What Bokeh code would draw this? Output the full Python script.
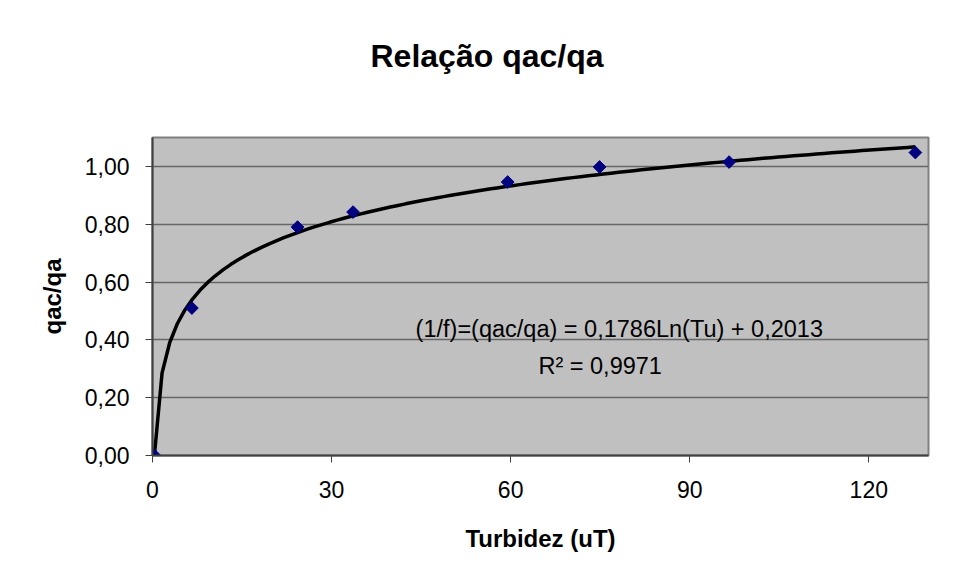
import numpy as np
from bokeh.plotting import figure
from bokeh.models import (ColumnDataSource, FixedTicker, Label, Range1d, Title)
from bokeh.embed import file_html
from bokeh.resources import INLINE

# ---- data ----
turbidez = [0.33, 6.6, 24.3, 33.6, 59.5, 74.9, 96.6, 127.8]
qac_qa = [0.0, 0.51, 0.79, 0.842, 0.946, 0.998, 1.015, 1.048]

# logarithmic trendline shown on the chart: y = a*ln(x) + b
trend_a = 0.1786
trend_b = 0.2013
r_squared = "0,9971"

x_ticks = [0, 30, 60, 90, 120]
x_tick_labels = ["0", "30", "60", "90", "120"]
y_ticks = [0.0, 0.2, 0.4, 0.6, 0.8, 1.0]
y_tick_labels = ["0,00", "0,20", "0,40", "0,60", "0,80", "1,00"]

title_text = "Relação qac/qa"
x_label = "Turbidez (uT)"
y_label = "qac/qa"
equation_text = "(1/f)=(qac/qa) = 0,1786Ln(Tu) + 0,2013"
r2_text = "R² = " + r_squared

FONT = "Liberation Sans"

x_min, x_max = 0, 130
y_min, y_max = 0, 1.1

p = figure(width=956, height=579, output_backend="svg", toolbar_location=None,
           x_range=Range1d(x_min, x_max), y_range=Range1d(y_min, y_max),
           min_border_left=152, min_border_right=28, min_border_top=137,
           min_border_bottom=124)
p.background_fill_color = "#c0c0c0"
p.border_fill_color = "white"
p.outline_line_color = "#808080"
p.outline_line_width = 2

# chart title (outermost panel above the plot area)
p.title.text = title_text
p.title.align = "left"
p.title.offset = 218
p.title.standoff = 0
p.title.vertical_align = "bottom"
p.title.text_font = FONT
p.title.text_font_style = "bold"
p.title.text_font_size = "32px"
p.title.text_color = "black"

# spacing panel between the title and the plot area
p.add_layout(Title(text=" ", text_font_size="2px", standoff=60), "above")

# grid
p.xgrid.grid_line_color = None
p.ygrid.grid_line_color = "#666666"
p.ygrid.grid_line_width = 1.3

# axes
for ax in (p.xaxis[0], p.yaxis[0]):
    ax.axis_line_color = "#404040"
    ax.axis_line_width = 2
    ax.major_tick_line_color = "#404040"
    ax.major_tick_line_width = 1
    ax.major_tick_in = 0
    ax.major_tick_out = 7
    ax.minor_tick_line_color = None
    ax.major_label_text_font = FONT
    ax.major_label_text_font_size = "23px"
    ax.major_label_text_color = "black"
    ax.axis_label_text_font = FONT
    ax.axis_label_text_font_style = "bold"
    ax.axis_label_text_font_size = "24px"
    ax.axis_label_text_color = "black"

p.xaxis.ticker = FixedTicker(ticks=x_ticks)
p.xaxis.major_label_overrides = {t: l for t, l in zip(x_ticks, x_tick_labels)}
p.yaxis.ticker = FixedTicker(ticks=y_ticks)
p.yaxis.major_label_overrides = {t: l for t, l in zip(y_ticks, y_tick_labels)}
p.xaxis.axis_label = x_label
p.yaxis.axis_label = y_label
p.xaxis.major_label_standoff = 18
p.xaxis.axis_label_standoff = 24
p.yaxis.major_label_standoff = 16
p.yaxis.axis_label_standoff = 16

# trendline from the displayed coefficients over the data range
tx = np.linspace(turbidez[0], turbidez[-1], 101)
ty = trend_a * np.log(tx) + trend_b
p.line(tx, ty, line_color="black", line_width=3.5)

# data points (diamonds)
src = ColumnDataSource(data=dict(x=turbidez, y=qac_qa))
p.scatter("x", "y", source=src, marker="square", angle=np.pi / 4, size=9,
          fill_color="#000080", line_color="#000080")

# trendline equation and R2
p.add_layout(Label(x=78.2, y=0.439, text=equation_text, text_align="center",
                   text_baseline="alphabetic", text_font=FONT,
                   text_font_size="23.5px", text_color="black"))
p.add_layout(Label(x=75.0, y=0.308, text=r2_text, text_align="center",
                   text_baseline="alphabetic", text_font=FONT,
                   text_font_size="23.5px", text_color="black"))

open("out.html", "w").write(file_html(p, INLINE))
